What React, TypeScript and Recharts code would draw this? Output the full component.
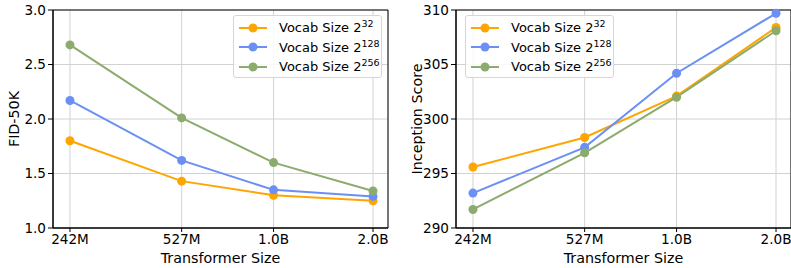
import React from 'react';
import {
  LineChart,
  Line,
  XAxis,
  YAxis,
  CartesianGrid,
  ReferenceArea,
} from 'recharts';

const sizes = [242, 527, 1000, 2000];
const sizeLabels = ['242M', '527M', '1.0B', '2.0B'];

const fid32 = [1.8, 1.43, 1.3, 1.25];
const fid128 = [2.17, 1.62, 1.35, 1.29];
const fid256 = [2.68, 2.01, 1.6, 1.34];

const is32 = [295.6, 298.3, 302.1, 308.4];
const is128 = [293.2, 297.4, 304.2, 309.7];
const is256 = [291.7, 296.9, 302.0, 308.1];

const fidTicks = [1.0, 1.5, 2.0, 2.5, 3.0];
const isTicks = [290, 295, 300, 305, 310];

const vocabNames = ['32', '128', '256'];
const colors = ['#ffa500', '#6b8ff5', '#8cab6e'];

const FONT = 'DejaVu Sans, sans-serif';
const TICK_FS = 13.6;
const LABEL_FS = 14.3;

const fidData = sizes.map((s, i) => ({ size: s, v32: fid32[i], v128: fid128[i], v256: fid256[i] }));
const isData = sizes.map((s, i) => ({ size: s, v32: is32[i], v128: is128[i], v256: is256[i] }));

const xDomain = [215, 2220];
const fmtSize = (v: number) => sizeLabels[sizes.indexOf(v)] ?? '';

const VocabLegend = ({ left, top }: { left: number; top: number }) => (
  <div
    style={{
      position: 'absolute',
      left,
      top,
      width: 149,
      height: 63,
      border: '1px solid #d6d6d6',
      borderRadius: 3,
      background: 'rgba(255,255,255,0.85)',
      fontFamily: FONT,
      fontSize: 13,
      color: '#000',
      boxSizing: 'border-box',
      paddingTop: 2,
    }}
  >
    {vocabNames.map((n, i) => (
      <div key={n} style={{ display: 'flex', alignItems: 'center', height: 19.5 }}>
        <svg width={41} height={12} style={{ marginLeft: 4, flexShrink: 0 }}>
          <line x1={1} y1={6} x2={29} y2={6} stroke={colors[i]} strokeWidth={2} />
          <circle cx={15} cy={6} r={4.5} fill={colors[i]} />
        </svg>
        <span style={{ whiteSpace: 'nowrap' }}>
          Vocab Size 2<sup style={{ fontSize: 9.5, verticalAlign: 'top', lineHeight: '8px' }}>{n}</sup>
        </span>
      </div>
    ))}
  </div>
);

const Panel = ({
  data,
  yDomain,
  yTicks,
  yLabel,
  width,
  yFmt,
}: {
  data: any[];
  yDomain: number[];
  yTicks: number[];
  yLabel: string;
  width: number;
  yFmt: (v: number) => string;
}) => (
  <LineChart width={width} height={268} data={data} margin={{ top: 10, right: 1, bottom: 0, left: 0 }}>
    <CartesianGrid stroke="#d2d2d2" strokeWidth={1} />
    <XAxis
      dataKey="size"
      type="number"
      scale="log"
      domain={xDomain}
      allowDataOverflow
      ticks={sizes}
      tickFormatter={fmtSize}
      interval={0}
      height={40}
      tick={{ fill: '#000', fontSize: TICK_FS, fontFamily: FONT }}
      tickLine={{ stroke: '#000' }}
      tickSize={4}
      axisLine={{ stroke: '#000' }}
      label={{ value: 'Transformer Size', position: 'insideBottom', offset: 5, fill: '#000', fontSize: LABEL_FS, fontFamily: FONT }}
    />
    <YAxis
      type="number"
      domain={yDomain}
      ticks={yTicks}
      tickFormatter={yFmt}
      interval={0}
      width={53}
      tick={{ fill: '#000', fontSize: TICK_FS, fontFamily: FONT }}
      tickLine={{ stroke: '#000' }}
      tickSize={5}
      axisLine={{ stroke: '#000' }}
      label={{ value: yLabel, angle: -90, position: 'insideLeft', offset: 14, style: { textAnchor: 'middle' }, fill: '#000', fontSize: LABEL_FS, fontFamily: FONT }}
    />
    <ReferenceArea x1={xDomain[0]} x2={xDomain[1]} y1={yDomain[0]} y2={yDomain[1]} fill="none" stroke="#000" strokeWidth={1} />
    {['v32', 'v128', 'v256'].map((k, i) => (
      <Line
        key={k}
        dataKey={k}
        stroke={colors[i]}
        strokeWidth={2}
        dot={{ r: 4.5, fill: colors[i], stroke: 'none' }}
        isAnimationActive={false}
      />
    ))}
  </LineChart>
);

export default function App() {
  return (
    <div style={{ position: 'absolute', left: 0, top: 0, width: 791, height: 268, background: '#fff' }}>
      <div style={{ position: 'absolute', left: 0, top: 0 }}>
        <Panel data={fidData} yDomain={[1, 3]} yTicks={fidTicks} yLabel="FID-50K" width={389} yFmt={(v) => v.toFixed(1)} />
      </div>
      <div style={{ position: 'absolute', left: 403, top: 0 }}>
        <Panel data={isData} yDomain={[290, 310]} yTicks={isTicks} yLabel="Inception Score" width={389} yFmt={(v) => String(v)} />
      </div>
      <VocabLegend left={233} top={15} />
      <VocabLegend left={465} top={15} />
    </div>
  );
}
